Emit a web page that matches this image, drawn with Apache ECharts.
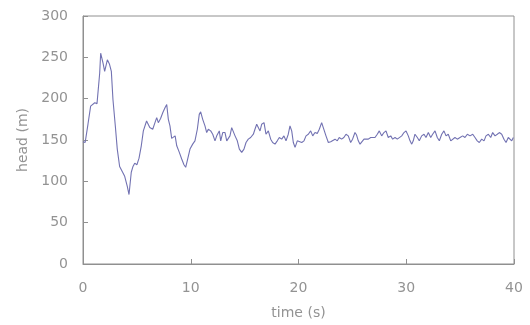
<!DOCTYPE html>
<html>
<head>
<meta charset="utf-8">
<script src="https://cdn.jsdelivr.net/npm/echarts@6/dist/echarts.min.js"></script>
<style>
  html, body { margin: 0; padding: 0; background: #fff; }
  #chart { width: 530px; height: 325px; }
</style>
</head>
<body>
<div id="chart"></div>
<script>
// time (s) and head (m)
var times = [0, 0.2, 0.46, 0.71, 1.09, 1.3, 1.55, 1.64, 1.86, 2.01, 2.26, 2.45, 2.63, 2.78, 3.0, 3.18, 3.4, 3.87, 4.11, 4.27, 4.48, 4.64, 4.8, 5.0, 5.2, 5.41, 5.6,
  5.9, 6.2, 6.47, 6.68, 6.84, 6.99, 7.2, 7.4, 7.61, 7.77, 7.92, 8.07, 8.23, 8.38, 8.55, 8.7, 8.94, 9.16, 9.37, 9.53, 9.68, 9.93, 10.18, 10.39, 10.61, 10.79, 10.92,
  11.11, 11.32, 11.48, 11.63, 11.85, 12.04, 12.25, 12.41, 12.65, 12.78, 12.97, 13.18, 13.34, 13.49, 13.64, 13.8, 13.95, 14.11, 14.32, 14.51, 14.73, 14.94,
  15.13, 15.34, 15.56, 15.81, 15.96, 16.12, 16.27, 16.43, 16.58, 16.8, 16.98, 17.2, 17.42, 17.6, 17.82, 18.03, 18.22, 18.44, 18.65, 18.84, 19.05, 19.21,
  19.37, 19.52, 19.68, 19.89, 20.07, 20.3, 20.51, 20.7, 20.91, 21.13, 21.32, 21.53, 21.74, 21.93, 22.15, 22.3, 22.55, 22.77, 22.99, 23.17, 23.39, 23.6,
  23.78, 24.0, 24.21, 24.41, 24.62, 24.84, 25.02, 25.24, 25.39, 25.55, 25.71, 25.86, 26.08, 26.26, 26.48, 26.7, 26.88, 27.1, 27.31, 27.5, 27.72, 27.93,
  28.12, 28.33, 28.56, 28.74, 28.96, 29.17, 29.35, 29.58, 29.79, 29.98, 30.19, 30.35, 30.51, 30.65, 30.81, 31.03, 31.21, 31.43, 31.65, 31.83, 32.05,
  32.27, 32.45, 32.67, 32.88, 33.07, 33.29, 33.5, 33.69, 33.9, 34.13, 34.31, 34.52, 34.74, 34.99, 35.24, 35.45, 35.67, 35.92, 36.17, 36.38, 36.59,
  36.78, 37.0, 37.22, 37.4, 37.62, 37.84, 38.02, 38.24, 38.45, 38.64, 38.86, 39.07, 39.26, 39.47, 39.63, 39.79, 39.94];
var heads = [148, 147, 169, 191, 195, 194, 231, 255, 243, 233, 247, 242, 233, 199, 167, 139, 118, 106, 94, 84, 111, 118, 122, 120, 128, 143, 161,
  173, 165, 163, 171, 177, 171, 176, 183, 189, 193, 175, 167, 152, 151, 155, 143, 135, 127, 120, 117, 125, 139, 145, 149, 163, 181, 184,
  175, 167, 159, 163, 161, 157, 149, 155, 161, 149, 159, 159, 149, 147, 155, 165, 167, 155, 149, 139, 135, 139,
  147, 151, 153, 157, 163, 169, 169, 161, 169, 171, 157, 161, 151, 147, 145, 149, 153, 151, 155, 149, 157, 167,
  161, 147, 141, 149, 151, 147, 149, 155, 157, 161, 155, 159, 158, 163, 171, 165, 155, 147, 148, 147, 151, 149,
  153, 151, 153, 157, 155, 147, 151, 159, 156, 149, 145, 147, 151, 149, 151, 153, 155, 153, 157, 161, 155, 159,
  161, 153, 155, 151, 153, 151, 153, 155, 159, 161, 155, 149, 145, 149, 157, 153, 149, 155, 157, 153, 159,
  153, 157, 161, 153, 149, 157, 161, 155, 157, 149, 147, 153, 151, 153, 155, 153, 157, 155, 157, 153, 149,
  147, 151, 149, 155, 157, 153, 159, 155, 157, 159, 157, 151, 147, 153, 155, 149, 153];

var points = times.map(function (t, i) { return [t, heads[i]]; });

var chart = echarts.init(document.getElementById('chart'));
var gray = '#909090';
var labelFont = { color: '#939393', fontSize: 14, fontFamily: 'DejaVu Sans' };
var option = {
  backgroundColor: '#fff',
  animation: false,
  grid: { left: 83, right: 16, top: 16, bottom: 60, show: true, borderColor: gray, borderWidth: 1 },
  xAxis: {
    type: 'value', min: 0, max: 40, interval: 10,
    name: 'time (s)', nameLocation: 'middle', nameGap: 42,
    nameTextStyle: labelFont,
    axisLine: { show: true, lineStyle: { color: gray } },
    axisTick: { show: true, inside: true, length: 5, lineStyle: { color: gray } },
    axisLabel: Object.assign({ margin: 17 }, labelFont),
    splitLine: { show: false }
  },
  yAxis: {
    type: 'value', min: 0, max: 300, interval: 50,
    name: 'head (m)', nameLocation: 'middle', nameGap: 52,
    nameTextStyle: labelFont,
    axisLine: { show: true, lineStyle: { color: gray } },
    axisTick: { show: true, inside: true, length: 5, lineStyle: { color: gray } },
    axisLabel: Object.assign({ margin: 15 }, labelFont),
    splitLine: { show: false }
  },
  series: [{
    type: 'line',
    data: points,
    showSymbol: false,
    lineStyle: { color: '#7272b2', width: 1.1 }
  }]
};
chart.setOption(option);
</script>
</body>
</html>
